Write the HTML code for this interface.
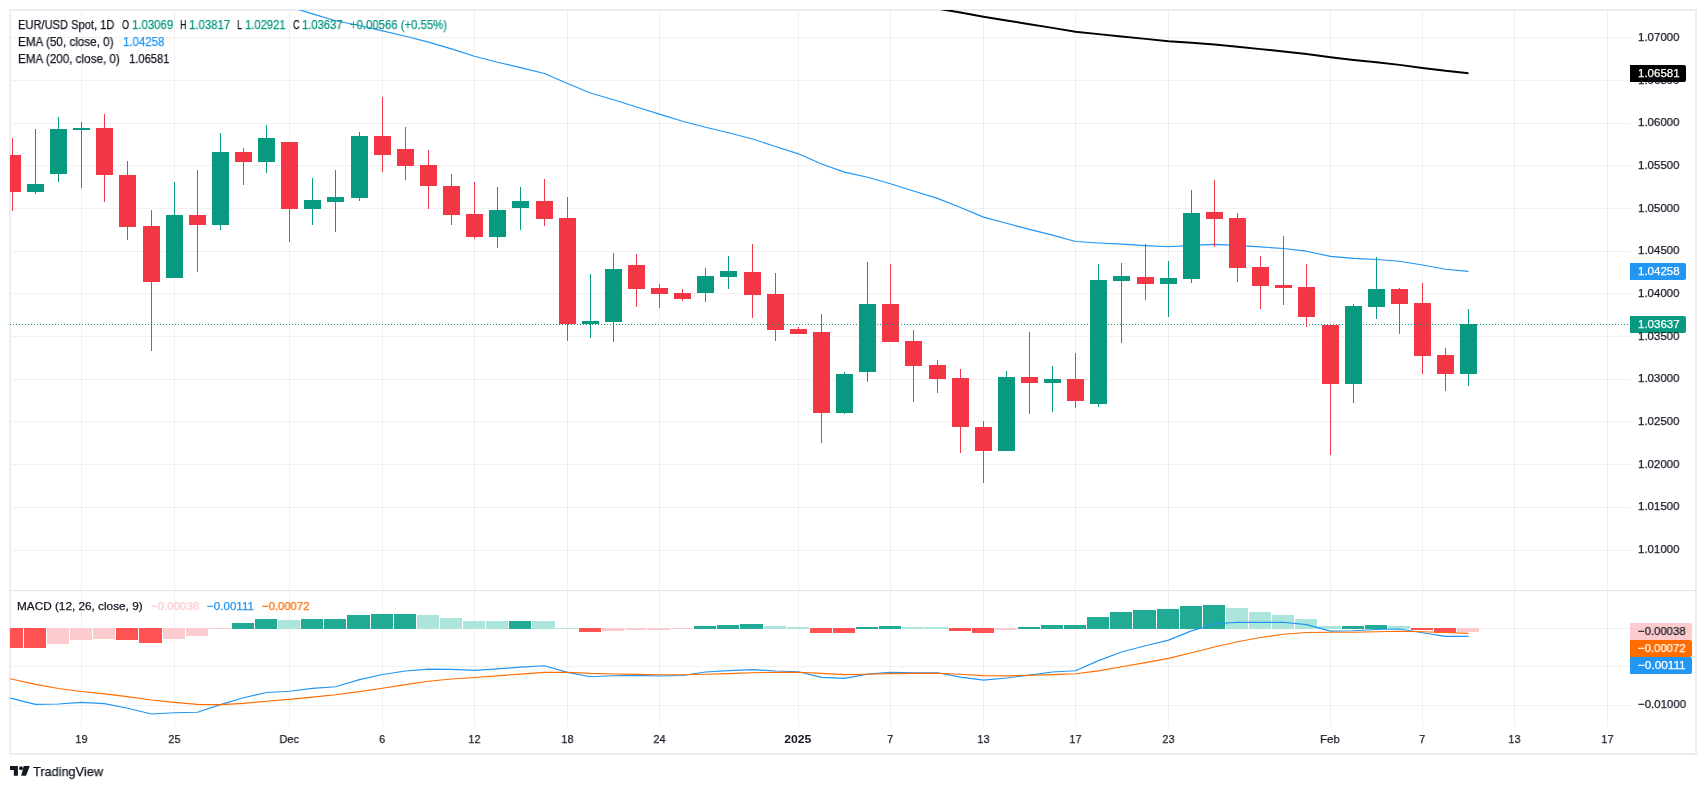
<!DOCTYPE html>
<html><head><meta charset="utf-8"><title>EUR/USD Spot</title>
<style>
html,body{margin:0;padding:0;background:#fff}
body{width:1706px;height:789px;position:relative;overflow:hidden;font-family:"Liberation Sans",sans-serif}
.t{position:absolute;white-space:nowrap;will-change:transform;-webkit-text-stroke:0.25px currentColor;line-height:normal;font-family:"Liberation Sans",sans-serif}
.tc{text-align:center;color:#131722}
.lb{position:absolute;border-radius:0 2px 2px 0}
.frame{position:absolute;left:9px;top:9px;width:1684px;height:742px;border:2px solid #ecedf3;box-sizing:content-box}
</style></head><body>
<div class="frame"></div>
<svg width="1706" height="789" viewBox="0 0 1706 789" style="position:absolute;left:0;top:0" shape-rendering="crispEdges"><defs><clipPath id="cm"><rect x="10" y="10" width="1620" height="580"/></clipPath><clipPath id="cp"><rect x="10" y="591" width="1620" height="135"/></clipPath></defs><rect x="11" y="37" width="1619" height="1" fill="rgba(40,48,50,0.065)"/><rect x="11" y="80" width="1619" height="1" fill="rgba(40,48,50,0.065)"/><rect x="11" y="123" width="1619" height="1" fill="rgba(40,48,50,0.065)"/><rect x="11" y="165" width="1619" height="1" fill="rgba(40,48,50,0.065)"/><rect x="11" y="208" width="1619" height="1" fill="rgba(40,48,50,0.065)"/><rect x="11" y="251" width="1619" height="1" fill="rgba(40,48,50,0.065)"/><rect x="11" y="293" width="1619" height="1" fill="rgba(40,48,50,0.065)"/><rect x="11" y="336" width="1619" height="1" fill="rgba(40,48,50,0.065)"/><rect x="11" y="379" width="1619" height="1" fill="rgba(40,48,50,0.065)"/><rect x="11" y="421" width="1619" height="1" fill="rgba(40,48,50,0.065)"/><rect x="11" y="464" width="1619" height="1" fill="rgba(40,48,50,0.065)"/><rect x="11" y="507" width="1619" height="1" fill="rgba(40,48,50,0.065)"/><rect x="11" y="550" width="1619" height="1" fill="rgba(40,48,50,0.065)"/><rect x="11" y="628" width="1619" height="1" fill="rgba(40,48,50,0.065)"/><rect x="11" y="666" width="1619" height="1" fill="rgba(40,48,50,0.065)"/><rect x="11" y="705" width="1619" height="1" fill="rgba(40,48,50,0.065)"/><rect x="81" y="11" width="1" height="715" fill="rgba(40,48,50,0.065)"/><rect x="174" y="11" width="1" height="715" fill="rgba(40,48,50,0.065)"/><rect x="289" y="11" width="1" height="715" fill="rgba(40,48,50,0.065)"/><rect x="382" y="11" width="1" height="715" fill="rgba(40,48,50,0.065)"/><rect x="474" y="11" width="1" height="715" fill="rgba(40,48,50,0.065)"/><rect x="567" y="11" width="1" height="715" fill="rgba(40,48,50,0.065)"/><rect x="659" y="11" width="1" height="715" fill="rgba(40,48,50,0.065)"/><rect x="798" y="11" width="1" height="715" fill="rgba(40,48,50,0.065)"/><rect x="890" y="11" width="1" height="715" fill="rgba(40,48,50,0.065)"/><rect x="983" y="11" width="1" height="715" fill="rgba(40,48,50,0.065)"/><rect x="1075" y="11" width="1" height="715" fill="rgba(40,48,50,0.065)"/><rect x="1168" y="11" width="1" height="715" fill="rgba(40,48,50,0.065)"/><rect x="1330" y="11" width="1" height="715" fill="rgba(40,48,50,0.065)"/><rect x="1422" y="11" width="1" height="715" fill="rgba(40,48,50,0.065)"/><rect x="1514" y="11" width="1" height="715" fill="rgba(40,48,50,0.065)"/><rect x="1607" y="11" width="1" height="715" fill="rgba(40,48,50,0.065)"/><rect x="11" y="590" width="1684" height="1" fill="#e0e3eb"/><g clip-path="url(#cm)"><polyline shape-rendering="geometricPrecision" points="-10.6,-118.06 12.5,-106.49 35.5,-94.93 58.5,-85.97 81.5,-77.41 104.5,-67.35 127.5,-55.64 151.5,-42.23 174.5,-31.97 197.5,-21.72 220.5,-14.73 243.5,-7.64 266.5,-1.76 289.5,6.67 312.5,13.92 335.5,20.75 359.5,25.56 382.5,30.92 405.5,36.22 428.5,42.11 451.5,48.89 474.5,56.27 497.5,62.25 520.5,67.64 544.5,73.52 567.5,83.50 590.5,92.97 613.5,99.72 636.5,106.97 659.5,114.12 682.5,121.27 705.5,127.24 728.5,132.78 752.5,139.01 775.5,146.49 798.5,153.84 821.5,163.95 844.5,172.13 867.5,177.29 890.5,183.73 913.5,190.95 937.5,198.41 960.5,207.46 983.5,217.10 1006.5,223.26 1029.5,229.41 1052.5,235.16 1075.5,241.54 1098.5,242.95 1121.5,244.14 1145.5,245.59 1168.5,246.73 1191.5,245.41 1214.5,244.38 1237.5,245.31 1260.5,246.90 1283.5,248.51 1306.5,251.19 1330.5,256.39 1353.5,258.34 1376.5,259.54 1399.5,261.28 1422.5,264.98 1445.5,269.25 1468.5,271.40" fill="none" stroke="#2196f3" stroke-width="1.15" stroke-linejoin="round" stroke-linecap="butt" /><polyline shape-rendering="geometricPrecision" points="-10.6,-205.20 12.5,-200.00 35.5,-194.80 58.5,-190.17 81.5,-185.58 104.5,-180.54 127.5,-175.02 151.5,-168.97 174.5,-163.64 197.5,-158.23 220.5,-153.58 243.5,-148.86 266.5,-144.40 289.5,-139.26 312.5,-134.23 335.5,-129.26 359.5,-124.92 382.5,-120.42 405.5,-115.83 428.5,-111.06 451.5,-106.03 474.5,-100.81 497.5,-95.89 520.5,-91.08 544.5,-86.12 567.5,-80.14 590.5,-74.22 613.5,-68.86 636.5,-63.34 659.5,-57.79 682.5,-52.23 705.5,-46.93 728.5,-41.71 752.5,-36.28 775.5,-30.54 798.5,-24.79 821.5,-18.28 844.5,-12.21 867.5,-6.87 890.5,-1.19 913.5,4.70 937.5,8.60 960.5,12.60 983.5,16.80 1006.5,20.50 1029.5,24.22 1052.5,27.87 1075.5,31.70 1098.5,34.12 1121.5,36.47 1145.5,38.88 1168.5,41.20 1191.5,42.87 1214.5,44.59 1237.5,46.78 1260.5,49.12 1283.5,51.46 1306.5,54.06 1330.5,57.30 1353.5,59.91 1376.5,62.33 1399.5,64.87 1422.5,67.90 1445.5,70.81 1468.5,73.20" fill="none" stroke="#000000" stroke-width="2" stroke-linejoin="round" stroke-linecap="butt" /><rect x="12" y="138" width="1" height="73" fill="#f23645"/><rect x="4" y="155" width="17" height="37" fill="#f23645"/><rect x="35" y="129" width="1" height="65" fill="#089981"/><rect x="27" y="184" width="17" height="8" fill="#089981"/><rect x="58" y="117" width="1" height="65" fill="#089981"/><rect x="50" y="129" width="17" height="45" fill="#089981"/><rect x="81" y="122" width="1" height="66" fill="#089981"/><rect x="73" y="128" width="17" height="2" fill="#089981"/><rect x="104" y="114" width="1" height="88" fill="#f23645"/><rect x="96" y="128" width="17" height="47" fill="#f23645"/><rect x="127" y="161" width="1" height="79" fill="#f23645"/><rect x="119" y="175" width="17" height="52" fill="#f23645"/><rect x="151" y="210" width="1" height="141" fill="#f23645"/><rect x="143" y="226" width="17" height="56" fill="#f23645"/><rect x="174" y="182" width="1" height="96" fill="#089981"/><rect x="166" y="215" width="17" height="63" fill="#089981"/><rect x="197" y="170" width="1" height="102" fill="#f23645"/><rect x="189" y="215" width="17" height="10" fill="#f23645"/><rect x="220" y="133" width="1" height="97" fill="#089981"/><rect x="212" y="152" width="17" height="73" fill="#089981"/><rect x="243" y="148" width="1" height="37" fill="#f23645"/><rect x="235" y="152" width="17" height="10" fill="#f23645"/><rect x="266" y="125" width="1" height="48" fill="#089981"/><rect x="258" y="138" width="17" height="24" fill="#089981"/><rect x="289" y="142" width="1" height="100" fill="#f23645"/><rect x="281" y="142" width="17" height="67" fill="#f23645"/><rect x="312" y="178" width="1" height="47" fill="#089981"/><rect x="304" y="200" width="17" height="9" fill="#089981"/><rect x="335" y="170" width="1" height="62" fill="#089981"/><rect x="327" y="197" width="17" height="5" fill="#089981"/><rect x="359" y="132" width="1" height="69" fill="#089981"/><rect x="351" y="136" width="17" height="62" fill="#089981"/><rect x="382" y="97" width="1" height="75" fill="#f23645"/><rect x="374" y="136" width="17" height="19" fill="#f23645"/><rect x="405" y="127" width="1" height="53" fill="#f23645"/><rect x="397" y="149" width="17" height="17" fill="#f23645"/><rect x="428" y="150" width="1" height="59" fill="#f23645"/><rect x="420" y="165" width="17" height="21" fill="#f23645"/><rect x="451" y="174" width="1" height="51" fill="#f23645"/><rect x="443" y="186" width="17" height="29" fill="#f23645"/><rect x="474" y="182" width="1" height="57" fill="#f23645"/><rect x="466" y="214" width="17" height="23" fill="#f23645"/><rect x="497" y="187" width="1" height="61" fill="#089981"/><rect x="489" y="210" width="17" height="27" fill="#089981"/><rect x="520" y="187" width="1" height="43" fill="#089981"/><rect x="512" y="201" width="17" height="7" fill="#089981"/><rect x="544" y="179" width="1" height="47" fill="#f23645"/><rect x="536" y="201" width="17" height="18" fill="#f23645"/><rect x="567" y="197" width="1" height="144" fill="#f23645"/><rect x="559" y="218" width="17" height="106" fill="#f23645"/><rect x="590" y="274" width="1" height="64" fill="#089981"/><rect x="582" y="321" width="17" height="3" fill="#089981"/><rect x="613" y="253" width="1" height="89" fill="#089981"/><rect x="605" y="269" width="17" height="53" fill="#089981"/><rect x="636" y="254" width="1" height="53" fill="#f23645"/><rect x="628" y="265" width="17" height="24" fill="#f23645"/><rect x="659" y="284" width="1" height="24" fill="#f23645"/><rect x="651" y="288" width="17" height="6" fill="#f23645"/><rect x="682" y="289" width="1" height="12" fill="#f23645"/><rect x="674" y="293" width="17" height="6" fill="#f23645"/><rect x="705" y="268" width="1" height="34" fill="#089981"/><rect x="697" y="276" width="17" height="17" fill="#089981"/><rect x="728" y="256" width="1" height="33" fill="#089981"/><rect x="720" y="271" width="17" height="6" fill="#089981"/><rect x="752" y="244" width="1" height="74" fill="#f23645"/><rect x="744" y="272" width="17" height="23" fill="#f23645"/><rect x="775" y="273" width="1" height="68" fill="#f23645"/><rect x="767" y="294" width="17" height="36" fill="#f23645"/><rect x="798" y="327" width="1" height="7" fill="#f23645"/><rect x="790" y="329" width="17" height="5" fill="#f23645"/><rect x="821" y="314" width="1" height="129" fill="#f23645"/><rect x="813" y="332" width="17" height="81" fill="#f23645"/><rect x="844" y="372" width="1" height="42" fill="#089981"/><rect x="836" y="374" width="17" height="39" fill="#089981"/><rect x="867" y="262" width="1" height="120" fill="#089981"/><rect x="859" y="304" width="17" height="68" fill="#089981"/><rect x="890" y="264" width="1" height="78" fill="#f23645"/><rect x="882" y="304" width="17" height="38" fill="#f23645"/><rect x="913" y="330" width="1" height="72" fill="#f23645"/><rect x="905" y="341" width="17" height="25" fill="#f23645"/><rect x="937" y="360" width="1" height="33" fill="#f23645"/><rect x="929" y="365" width="17" height="14" fill="#f23645"/><rect x="960" y="369" width="1" height="84" fill="#f23645"/><rect x="952" y="378" width="17" height="49" fill="#f23645"/><rect x="983" y="421" width="1" height="62" fill="#f23645"/><rect x="975" y="427" width="17" height="24" fill="#f23645"/><rect x="1006" y="371" width="1" height="80" fill="#089981"/><rect x="998" y="377" width="17" height="74" fill="#089981"/><rect x="1029" y="332" width="1" height="82" fill="#f23645"/><rect x="1021" y="377" width="17" height="6" fill="#f23645"/><rect x="1052" y="366" width="1" height="46" fill="#089981"/><rect x="1044" y="379" width="17" height="4" fill="#089981"/><rect x="1075" y="353" width="1" height="55" fill="#f23645"/><rect x="1067" y="379" width="17" height="22" fill="#f23645"/><rect x="1098" y="264" width="1" height="143" fill="#089981"/><rect x="1090" y="280" width="17" height="124" fill="#089981"/><rect x="1121" y="263" width="1" height="80" fill="#089981"/><rect x="1113" y="276" width="17" height="5" fill="#089981"/><rect x="1145" y="244" width="1" height="56" fill="#f23645"/><rect x="1137" y="277" width="17" height="7" fill="#f23645"/><rect x="1168" y="261" width="1" height="56" fill="#089981"/><rect x="1160" y="278" width="17" height="6" fill="#089981"/><rect x="1191" y="190" width="1" height="93" fill="#089981"/><rect x="1183" y="213" width="17" height="66" fill="#089981"/><rect x="1214" y="180" width="1" height="67" fill="#f23645"/><rect x="1206" y="212" width="17" height="7" fill="#f23645"/><rect x="1237" y="213" width="1" height="69" fill="#f23645"/><rect x="1229" y="218" width="17" height="50" fill="#f23645"/><rect x="1260" y="256" width="1" height="53" fill="#f23645"/><rect x="1252" y="267" width="17" height="19" fill="#f23645"/><rect x="1283" y="236" width="1" height="69" fill="#f23645"/><rect x="1275" y="285" width="17" height="3" fill="#f23645"/><rect x="1306" y="264" width="1" height="63" fill="#f23645"/><rect x="1298" y="287" width="17" height="30" fill="#f23645"/><rect x="1330" y="325" width="1" height="130" fill="#f23645"/><rect x="1322" y="325" width="17" height="59" fill="#f23645"/><rect x="1353" y="304" width="1" height="99" fill="#089981"/><rect x="1345" y="306" width="17" height="78" fill="#089981"/><rect x="1376" y="257" width="1" height="62" fill="#089981"/><rect x="1368" y="289" width="17" height="18" fill="#089981"/><rect x="1399" y="288" width="1" height="46" fill="#f23645"/><rect x="1391" y="289" width="17" height="15" fill="#f23645"/><rect x="1422" y="283" width="1" height="91" fill="#f23645"/><rect x="1414" y="303" width="17" height="53" fill="#f23645"/><rect x="1445" y="348" width="1" height="43" fill="#f23645"/><rect x="1437" y="355" width="17" height="19" fill="#f23645"/><rect x="1468" y="309" width="1" height="77" fill="#089981"/><rect x="1460" y="324" width="17" height="50" fill="#089981"/><rect x="10" y="324" width="1" height="1" fill="#089981"/><rect x="13" y="324" width="1" height="1" fill="#089981"/><rect x="16" y="324" width="1" height="1" fill="#089981"/><rect x="19" y="324" width="1" height="1" fill="#089981"/><rect x="22" y="324" width="1" height="1" fill="#089981"/><rect x="25" y="324" width="1" height="1" fill="#089981"/><rect x="28" y="324" width="1" height="1" fill="#089981"/><rect x="31" y="324" width="1" height="1" fill="#089981"/><rect x="34" y="324" width="1" height="1" fill="#089981"/><rect x="37" y="324" width="1" height="1" fill="#089981"/><rect x="40" y="324" width="1" height="1" fill="#089981"/><rect x="43" y="324" width="1" height="1" fill="#089981"/><rect x="46" y="324" width="1" height="1" fill="#089981"/><rect x="49" y="324" width="1" height="1" fill="#089981"/><rect x="52" y="324" width="1" height="1" fill="#089981"/><rect x="55" y="324" width="1" height="1" fill="#089981"/><rect x="58" y="324" width="1" height="1" fill="#089981"/><rect x="61" y="324" width="1" height="1" fill="#089981"/><rect x="64" y="324" width="1" height="1" fill="#089981"/><rect x="67" y="324" width="1" height="1" fill="#089981"/><rect x="70" y="324" width="1" height="1" fill="#089981"/><rect x="73" y="324" width="1" height="1" fill="#089981"/><rect x="76" y="324" width="1" height="1" fill="#089981"/><rect x="79" y="324" width="1" height="1" fill="#089981"/><rect x="82" y="324" width="1" height="1" fill="#089981"/><rect x="85" y="324" width="1" height="1" fill="#089981"/><rect x="88" y="324" width="1" height="1" fill="#089981"/><rect x="91" y="324" width="1" height="1" fill="#089981"/><rect x="94" y="324" width="1" height="1" fill="#089981"/><rect x="97" y="324" width="1" height="1" fill="#089981"/><rect x="100" y="324" width="1" height="1" fill="#089981"/><rect x="103" y="324" width="1" height="1" fill="#089981"/><rect x="106" y="324" width="1" height="1" fill="#089981"/><rect x="109" y="324" width="1" height="1" fill="#089981"/><rect x="112" y="324" width="1" height="1" fill="#089981"/><rect x="115" y="324" width="1" height="1" fill="#089981"/><rect x="118" y="324" width="1" height="1" fill="#089981"/><rect x="121" y="324" width="1" height="1" fill="#089981"/><rect x="124" y="324" width="1" height="1" fill="#089981"/><rect x="127" y="324" width="1" height="1" fill="#089981"/><rect x="130" y="324" width="1" height="1" fill="#089981"/><rect x="133" y="324" width="1" height="1" fill="#089981"/><rect x="136" y="324" width="1" height="1" fill="#089981"/><rect x="139" y="324" width="1" height="1" fill="#089981"/><rect x="142" y="324" width="1" height="1" fill="#089981"/><rect x="145" y="324" width="1" height="1" fill="#089981"/><rect x="148" y="324" width="1" height="1" fill="#089981"/><rect x="151" y="324" width="1" height="1" fill="#089981"/><rect x="154" y="324" width="1" height="1" fill="#089981"/><rect x="157" y="324" width="1" height="1" fill="#089981"/><rect x="160" y="324" width="1" height="1" fill="#089981"/><rect x="163" y="324" width="1" height="1" fill="#089981"/><rect x="166" y="324" width="1" height="1" fill="#089981"/><rect x="169" y="324" width="1" height="1" fill="#089981"/><rect x="172" y="324" width="1" height="1" fill="#089981"/><rect x="175" y="324" width="1" height="1" fill="#089981"/><rect x="178" y="324" width="1" height="1" fill="#089981"/><rect x="181" y="324" width="1" height="1" fill="#089981"/><rect x="184" y="324" width="1" height="1" fill="#089981"/><rect x="187" y="324" width="1" height="1" fill="#089981"/><rect x="190" y="324" width="1" height="1" fill="#089981"/><rect x="193" y="324" width="1" height="1" fill="#089981"/><rect x="196" y="324" width="1" height="1" fill="#089981"/><rect x="199" y="324" width="1" height="1" fill="#089981"/><rect x="202" y="324" width="1" height="1" fill="#089981"/><rect x="205" y="324" width="1" height="1" fill="#089981"/><rect x="208" y="324" width="1" height="1" fill="#089981"/><rect x="211" y="324" width="1" height="1" fill="#089981"/><rect x="214" y="324" width="1" height="1" fill="#089981"/><rect x="217" y="324" width="1" height="1" fill="#089981"/><rect x="220" y="324" width="1" height="1" fill="#089981"/><rect x="223" y="324" width="1" height="1" fill="#089981"/><rect x="226" y="324" width="1" height="1" fill="#089981"/><rect x="229" y="324" width="1" height="1" fill="#089981"/><rect x="232" y="324" width="1" height="1" fill="#089981"/><rect x="235" y="324" width="1" height="1" fill="#089981"/><rect x="238" y="324" width="1" height="1" fill="#089981"/><rect x="241" y="324" width="1" height="1" fill="#089981"/><rect x="244" y="324" width="1" height="1" fill="#089981"/><rect x="247" y="324" width="1" height="1" fill="#089981"/><rect x="250" y="324" width="1" height="1" fill="#089981"/><rect x="253" y="324" width="1" height="1" fill="#089981"/><rect x="256" y="324" width="1" height="1" fill="#089981"/><rect x="259" y="324" width="1" height="1" fill="#089981"/><rect x="262" y="324" width="1" height="1" fill="#089981"/><rect x="265" y="324" width="1" height="1" fill="#089981"/><rect x="268" y="324" width="1" height="1" fill="#089981"/><rect x="271" y="324" width="1" height="1" fill="#089981"/><rect x="274" y="324" width="1" height="1" fill="#089981"/><rect x="277" y="324" width="1" height="1" fill="#089981"/><rect x="280" y="324" width="1" height="1" fill="#089981"/><rect x="283" y="324" width="1" height="1" fill="#089981"/><rect x="286" y="324" width="1" height="1" fill="#089981"/><rect x="289" y="324" width="1" height="1" fill="#089981"/><rect x="292" y="324" width="1" height="1" fill="#089981"/><rect x="295" y="324" width="1" height="1" fill="#089981"/><rect x="298" y="324" width="1" height="1" fill="#089981"/><rect x="301" y="324" width="1" height="1" fill="#089981"/><rect x="304" y="324" width="1" height="1" fill="#089981"/><rect x="307" y="324" width="1" height="1" fill="#089981"/><rect x="310" y="324" width="1" height="1" fill="#089981"/><rect x="313" y="324" width="1" height="1" fill="#089981"/><rect x="316" y="324" width="1" height="1" fill="#089981"/><rect x="319" y="324" width="1" height="1" fill="#089981"/><rect x="322" y="324" width="1" height="1" fill="#089981"/><rect x="325" y="324" width="1" height="1" fill="#089981"/><rect x="328" y="324" width="1" height="1" fill="#089981"/><rect x="331" y="324" width="1" height="1" fill="#089981"/><rect x="334" y="324" width="1" height="1" fill="#089981"/><rect x="337" y="324" width="1" height="1" fill="#089981"/><rect x="340" y="324" width="1" height="1" fill="#089981"/><rect x="343" y="324" width="1" height="1" fill="#089981"/><rect x="346" y="324" width="1" height="1" fill="#089981"/><rect x="349" y="324" width="1" height="1" fill="#089981"/><rect x="352" y="324" width="1" height="1" fill="#089981"/><rect x="355" y="324" width="1" height="1" fill="#089981"/><rect x="358" y="324" width="1" height="1" fill="#089981"/><rect x="361" y="324" width="1" height="1" fill="#089981"/><rect x="364" y="324" width="1" height="1" fill="#089981"/><rect x="367" y="324" width="1" height="1" fill="#089981"/><rect x="370" y="324" width="1" height="1" fill="#089981"/><rect x="373" y="324" width="1" height="1" fill="#089981"/><rect x="376" y="324" width="1" height="1" fill="#089981"/><rect x="379" y="324" width="1" height="1" fill="#089981"/><rect x="382" y="324" width="1" height="1" fill="#089981"/><rect x="385" y="324" width="1" height="1" fill="#089981"/><rect x="388" y="324" width="1" height="1" fill="#089981"/><rect x="391" y="324" width="1" height="1" fill="#089981"/><rect x="394" y="324" width="1" height="1" fill="#089981"/><rect x="397" y="324" width="1" height="1" fill="#089981"/><rect x="400" y="324" width="1" height="1" fill="#089981"/><rect x="403" y="324" width="1" height="1" fill="#089981"/><rect x="406" y="324" width="1" height="1" fill="#089981"/><rect x="409" y="324" width="1" height="1" fill="#089981"/><rect x="412" y="324" width="1" height="1" fill="#089981"/><rect x="415" y="324" width="1" height="1" fill="#089981"/><rect x="418" y="324" width="1" height="1" fill="#089981"/><rect x="421" y="324" width="1" height="1" fill="#089981"/><rect x="424" y="324" width="1" height="1" fill="#089981"/><rect x="427" y="324" width="1" height="1" fill="#089981"/><rect x="430" y="324" width="1" height="1" fill="#089981"/><rect x="433" y="324" width="1" height="1" fill="#089981"/><rect x="436" y="324" width="1" height="1" fill="#089981"/><rect x="439" y="324" width="1" height="1" fill="#089981"/><rect x="442" y="324" width="1" height="1" fill="#089981"/><rect x="445" y="324" width="1" height="1" fill="#089981"/><rect x="448" y="324" width="1" height="1" fill="#089981"/><rect x="451" y="324" width="1" height="1" fill="#089981"/><rect x="454" y="324" width="1" height="1" fill="#089981"/><rect x="457" y="324" width="1" height="1" fill="#089981"/><rect x="460" y="324" width="1" height="1" fill="#089981"/><rect x="463" y="324" width="1" height="1" fill="#089981"/><rect x="466" y="324" width="1" height="1" fill="#089981"/><rect x="469" y="324" width="1" height="1" fill="#089981"/><rect x="472" y="324" width="1" height="1" fill="#089981"/><rect x="475" y="324" width="1" height="1" fill="#089981"/><rect x="478" y="324" width="1" height="1" fill="#089981"/><rect x="481" y="324" width="1" height="1" fill="#089981"/><rect x="484" y="324" width="1" height="1" fill="#089981"/><rect x="487" y="324" width="1" height="1" fill="#089981"/><rect x="490" y="324" width="1" height="1" fill="#089981"/><rect x="493" y="324" width="1" height="1" fill="#089981"/><rect x="496" y="324" width="1" height="1" fill="#089981"/><rect x="499" y="324" width="1" height="1" fill="#089981"/><rect x="502" y="324" width="1" height="1" fill="#089981"/><rect x="505" y="324" width="1" height="1" fill="#089981"/><rect x="508" y="324" width="1" height="1" fill="#089981"/><rect x="511" y="324" width="1" height="1" fill="#089981"/><rect x="514" y="324" width="1" height="1" fill="#089981"/><rect x="517" y="324" width="1" height="1" fill="#089981"/><rect x="520" y="324" width="1" height="1" fill="#089981"/><rect x="523" y="324" width="1" height="1" fill="#089981"/><rect x="526" y="324" width="1" height="1" fill="#089981"/><rect x="529" y="324" width="1" height="1" fill="#089981"/><rect x="532" y="324" width="1" height="1" fill="#089981"/><rect x="535" y="324" width="1" height="1" fill="#089981"/><rect x="538" y="324" width="1" height="1" fill="#089981"/><rect x="541" y="324" width="1" height="1" fill="#089981"/><rect x="544" y="324" width="1" height="1" fill="#089981"/><rect x="547" y="324" width="1" height="1" fill="#089981"/><rect x="550" y="324" width="1" height="1" fill="#089981"/><rect x="553" y="324" width="1" height="1" fill="#089981"/><rect x="556" y="324" width="1" height="1" fill="#089981"/><rect x="559" y="324" width="1" height="1" fill="#089981"/><rect x="562" y="324" width="1" height="1" fill="#089981"/><rect x="565" y="324" width="1" height="1" fill="#089981"/><rect x="568" y="324" width="1" height="1" fill="#089981"/><rect x="571" y="324" width="1" height="1" fill="#089981"/><rect x="574" y="324" width="1" height="1" fill="#089981"/><rect x="577" y="324" width="1" height="1" fill="#089981"/><rect x="580" y="324" width="1" height="1" fill="#089981"/><rect x="583" y="324" width="1" height="1" fill="#089981"/><rect x="586" y="324" width="1" height="1" fill="#089981"/><rect x="589" y="324" width="1" height="1" fill="#089981"/><rect x="592" y="324" width="1" height="1" fill="#089981"/><rect x="595" y="324" width="1" height="1" fill="#089981"/><rect x="598" y="324" width="1" height="1" fill="#089981"/><rect x="601" y="324" width="1" height="1" fill="#089981"/><rect x="604" y="324" width="1" height="1" fill="#089981"/><rect x="607" y="324" width="1" height="1" fill="#089981"/><rect x="610" y="324" width="1" height="1" fill="#089981"/><rect x="613" y="324" width="1" height="1" fill="#089981"/><rect x="616" y="324" width="1" height="1" fill="#089981"/><rect x="619" y="324" width="1" height="1" fill="#089981"/><rect x="622" y="324" width="1" height="1" fill="#089981"/><rect x="625" y="324" width="1" height="1" fill="#089981"/><rect x="628" y="324" width="1" height="1" fill="#089981"/><rect x="631" y="324" width="1" height="1" fill="#089981"/><rect x="634" y="324" width="1" height="1" fill="#089981"/><rect x="637" y="324" width="1" height="1" fill="#089981"/><rect x="640" y="324" width="1" height="1" fill="#089981"/><rect x="643" y="324" width="1" height="1" fill="#089981"/><rect x="646" y="324" width="1" height="1" fill="#089981"/><rect x="649" y="324" width="1" height="1" fill="#089981"/><rect x="652" y="324" width="1" height="1" fill="#089981"/><rect x="655" y="324" width="1" height="1" fill="#089981"/><rect x="658" y="324" width="1" height="1" fill="#089981"/><rect x="661" y="324" width="1" height="1" fill="#089981"/><rect x="664" y="324" width="1" height="1" fill="#089981"/><rect x="667" y="324" width="1" height="1" fill="#089981"/><rect x="670" y="324" width="1" height="1" fill="#089981"/><rect x="673" y="324" width="1" height="1" fill="#089981"/><rect x="676" y="324" width="1" height="1" fill="#089981"/><rect x="679" y="324" width="1" height="1" fill="#089981"/><rect x="682" y="324" width="1" height="1" fill="#089981"/><rect x="685" y="324" width="1" height="1" fill="#089981"/><rect x="688" y="324" width="1" height="1" fill="#089981"/><rect x="691" y="324" width="1" height="1" fill="#089981"/><rect x="694" y="324" width="1" height="1" fill="#089981"/><rect x="697" y="324" width="1" height="1" fill="#089981"/><rect x="700" y="324" width="1" height="1" fill="#089981"/><rect x="703" y="324" width="1" height="1" fill="#089981"/><rect x="706" y="324" width="1" height="1" fill="#089981"/><rect x="709" y="324" width="1" height="1" fill="#089981"/><rect x="712" y="324" width="1" height="1" fill="#089981"/><rect x="715" y="324" width="1" height="1" fill="#089981"/><rect x="718" y="324" width="1" height="1" fill="#089981"/><rect x="721" y="324" width="1" height="1" fill="#089981"/><rect x="724" y="324" width="1" height="1" fill="#089981"/><rect x="727" y="324" width="1" height="1" fill="#089981"/><rect x="730" y="324" width="1" height="1" fill="#089981"/><rect x="733" y="324" width="1" height="1" fill="#089981"/><rect x="736" y="324" width="1" height="1" fill="#089981"/><rect x="739" y="324" width="1" height="1" fill="#089981"/><rect x="742" y="324" width="1" height="1" fill="#089981"/><rect x="745" y="324" width="1" height="1" fill="#089981"/><rect x="748" y="324" width="1" height="1" fill="#089981"/><rect x="751" y="324" width="1" height="1" fill="#089981"/><rect x="754" y="324" width="1" height="1" fill="#089981"/><rect x="757" y="324" width="1" height="1" fill="#089981"/><rect x="760" y="324" width="1" height="1" fill="#089981"/><rect x="763" y="324" width="1" height="1" fill="#089981"/><rect x="766" y="324" width="1" height="1" fill="#089981"/><rect x="769" y="324" width="1" height="1" fill="#089981"/><rect x="772" y="324" width="1" height="1" fill="#089981"/><rect x="775" y="324" width="1" height="1" fill="#089981"/><rect x="778" y="324" width="1" height="1" fill="#089981"/><rect x="781" y="324" width="1" height="1" fill="#089981"/><rect x="784" y="324" width="1" height="1" fill="#089981"/><rect x="787" y="324" width="1" height="1" fill="#089981"/><rect x="790" y="324" width="1" height="1" fill="#089981"/><rect x="793" y="324" width="1" height="1" fill="#089981"/><rect x="796" y="324" width="1" height="1" fill="#089981"/><rect x="799" y="324" width="1" height="1" fill="#089981"/><rect x="802" y="324" width="1" height="1" fill="#089981"/><rect x="805" y="324" width="1" height="1" fill="#089981"/><rect x="808" y="324" width="1" height="1" fill="#089981"/><rect x="811" y="324" width="1" height="1" fill="#089981"/><rect x="814" y="324" width="1" height="1" fill="#089981"/><rect x="817" y="324" width="1" height="1" fill="#089981"/><rect x="820" y="324" width="1" height="1" fill="#089981"/><rect x="823" y="324" width="1" height="1" fill="#089981"/><rect x="826" y="324" width="1" height="1" fill="#089981"/><rect x="829" y="324" width="1" height="1" fill="#089981"/><rect x="832" y="324" width="1" height="1" fill="#089981"/><rect x="835" y="324" width="1" height="1" fill="#089981"/><rect x="838" y="324" width="1" height="1" fill="#089981"/><rect x="841" y="324" width="1" height="1" fill="#089981"/><rect x="844" y="324" width="1" height="1" fill="#089981"/><rect x="847" y="324" width="1" height="1" fill="#089981"/><rect x="850" y="324" width="1" height="1" fill="#089981"/><rect x="853" y="324" width="1" height="1" fill="#089981"/><rect x="856" y="324" width="1" height="1" fill="#089981"/><rect x="859" y="324" width="1" height="1" fill="#089981"/><rect x="862" y="324" width="1" height="1" fill="#089981"/><rect x="865" y="324" width="1" height="1" fill="#089981"/><rect x="868" y="324" width="1" height="1" fill="#089981"/><rect x="871" y="324" width="1" height="1" fill="#089981"/><rect x="874" y="324" width="1" height="1" fill="#089981"/><rect x="877" y="324" width="1" height="1" fill="#089981"/><rect x="880" y="324" width="1" height="1" fill="#089981"/><rect x="883" y="324" width="1" height="1" fill="#089981"/><rect x="886" y="324" width="1" height="1" fill="#089981"/><rect x="889" y="324" width="1" height="1" fill="#089981"/><rect x="892" y="324" width="1" height="1" fill="#089981"/><rect x="895" y="324" width="1" height="1" fill="#089981"/><rect x="898" y="324" width="1" height="1" fill="#089981"/><rect x="901" y="324" width="1" height="1" fill="#089981"/><rect x="904" y="324" width="1" height="1" fill="#089981"/><rect x="907" y="324" width="1" height="1" fill="#089981"/><rect x="910" y="324" width="1" height="1" fill="#089981"/><rect x="913" y="324" width="1" height="1" fill="#089981"/><rect x="916" y="324" width="1" height="1" fill="#089981"/><rect x="919" y="324" width="1" height="1" fill="#089981"/><rect x="922" y="324" width="1" height="1" fill="#089981"/><rect x="925" y="324" width="1" height="1" fill="#089981"/><rect x="928" y="324" width="1" height="1" fill="#089981"/><rect x="931" y="324" width="1" height="1" fill="#089981"/><rect x="934" y="324" width="1" height="1" fill="#089981"/><rect x="937" y="324" width="1" height="1" fill="#089981"/><rect x="940" y="324" width="1" height="1" fill="#089981"/><rect x="943" y="324" width="1" height="1" fill="#089981"/><rect x="946" y="324" width="1" height="1" fill="#089981"/><rect x="949" y="324" width="1" height="1" fill="#089981"/><rect x="952" y="324" width="1" height="1" fill="#089981"/><rect x="955" y="324" width="1" height="1" fill="#089981"/><rect x="958" y="324" width="1" height="1" fill="#089981"/><rect x="961" y="324" width="1" height="1" fill="#089981"/><rect x="964" y="324" width="1" height="1" fill="#089981"/><rect x="967" y="324" width="1" height="1" fill="#089981"/><rect x="970" y="324" width="1" height="1" fill="#089981"/><rect x="973" y="324" width="1" height="1" fill="#089981"/><rect x="976" y="324" width="1" height="1" fill="#089981"/><rect x="979" y="324" width="1" height="1" fill="#089981"/><rect x="982" y="324" width="1" height="1" fill="#089981"/><rect x="985" y="324" width="1" height="1" fill="#089981"/><rect x="988" y="324" width="1" height="1" fill="#089981"/><rect x="991" y="324" width="1" height="1" fill="#089981"/><rect x="994" y="324" width="1" height="1" fill="#089981"/><rect x="997" y="324" width="1" height="1" fill="#089981"/><rect x="1000" y="324" width="1" height="1" fill="#089981"/><rect x="1003" y="324" width="1" height="1" fill="#089981"/><rect x="1006" y="324" width="1" height="1" fill="#089981"/><rect x="1009" y="324" width="1" height="1" fill="#089981"/><rect x="1012" y="324" width="1" height="1" fill="#089981"/><rect x="1015" y="324" width="1" height="1" fill="#089981"/><rect x="1018" y="324" width="1" height="1" fill="#089981"/><rect x="1021" y="324" width="1" height="1" fill="#089981"/><rect x="1024" y="324" width="1" height="1" fill="#089981"/><rect x="1027" y="324" width="1" height="1" fill="#089981"/><rect x="1030" y="324" width="1" height="1" fill="#089981"/><rect x="1033" y="324" width="1" height="1" fill="#089981"/><rect x="1036" y="324" width="1" height="1" fill="#089981"/><rect x="1039" y="324" width="1" height="1" fill="#089981"/><rect x="1042" y="324" width="1" height="1" fill="#089981"/><rect x="1045" y="324" width="1" height="1" fill="#089981"/><rect x="1048" y="324" width="1" height="1" fill="#089981"/><rect x="1051" y="324" width="1" height="1" fill="#089981"/><rect x="1054" y="324" width="1" height="1" fill="#089981"/><rect x="1057" y="324" width="1" height="1" fill="#089981"/><rect x="1060" y="324" width="1" height="1" fill="#089981"/><rect x="1063" y="324" width="1" height="1" fill="#089981"/><rect x="1066" y="324" width="1" height="1" fill="#089981"/><rect x="1069" y="324" width="1" height="1" fill="#089981"/><rect x="1072" y="324" width="1" height="1" fill="#089981"/><rect x="1075" y="324" width="1" height="1" fill="#089981"/><rect x="1078" y="324" width="1" height="1" fill="#089981"/><rect x="1081" y="324" width="1" height="1" fill="#089981"/><rect x="1084" y="324" width="1" height="1" fill="#089981"/><rect x="1087" y="324" width="1" height="1" fill="#089981"/><rect x="1090" y="324" width="1" height="1" fill="#089981"/><rect x="1093" y="324" width="1" height="1" fill="#089981"/><rect x="1096" y="324" width="1" height="1" fill="#089981"/><rect x="1099" y="324" width="1" height="1" fill="#089981"/><rect x="1102" y="324" width="1" height="1" fill="#089981"/><rect x="1105" y="324" width="1" height="1" fill="#089981"/><rect x="1108" y="324" width="1" height="1" fill="#089981"/><rect x="1111" y="324" width="1" height="1" fill="#089981"/><rect x="1114" y="324" width="1" height="1" fill="#089981"/><rect x="1117" y="324" width="1" height="1" fill="#089981"/><rect x="1120" y="324" width="1" height="1" fill="#089981"/><rect x="1123" y="324" width="1" height="1" fill="#089981"/><rect x="1126" y="324" width="1" height="1" fill="#089981"/><rect x="1129" y="324" width="1" height="1" fill="#089981"/><rect x="1132" y="324" width="1" height="1" fill="#089981"/><rect x="1135" y="324" width="1" height="1" fill="#089981"/><rect x="1138" y="324" width="1" height="1" fill="#089981"/><rect x="1141" y="324" width="1" height="1" fill="#089981"/><rect x="1144" y="324" width="1" height="1" fill="#089981"/><rect x="1147" y="324" width="1" height="1" fill="#089981"/><rect x="1150" y="324" width="1" height="1" fill="#089981"/><rect x="1153" y="324" width="1" height="1" fill="#089981"/><rect x="1156" y="324" width="1" height="1" fill="#089981"/><rect x="1159" y="324" width="1" height="1" fill="#089981"/><rect x="1162" y="324" width="1" height="1" fill="#089981"/><rect x="1165" y="324" width="1" height="1" fill="#089981"/><rect x="1168" y="324" width="1" height="1" fill="#089981"/><rect x="1171" y="324" width="1" height="1" fill="#089981"/><rect x="1174" y="324" width="1" height="1" fill="#089981"/><rect x="1177" y="324" width="1" height="1" fill="#089981"/><rect x="1180" y="324" width="1" height="1" fill="#089981"/><rect x="1183" y="324" width="1" height="1" fill="#089981"/><rect x="1186" y="324" width="1" height="1" fill="#089981"/><rect x="1189" y="324" width="1" height="1" fill="#089981"/><rect x="1192" y="324" width="1" height="1" fill="#089981"/><rect x="1195" y="324" width="1" height="1" fill="#089981"/><rect x="1198" y="324" width="1" height="1" fill="#089981"/><rect x="1201" y="324" width="1" height="1" fill="#089981"/><rect x="1204" y="324" width="1" height="1" fill="#089981"/><rect x="1207" y="324" width="1" height="1" fill="#089981"/><rect x="1210" y="324" width="1" height="1" fill="#089981"/><rect x="1213" y="324" width="1" height="1" fill="#089981"/><rect x="1216" y="324" width="1" height="1" fill="#089981"/><rect x="1219" y="324" width="1" height="1" fill="#089981"/><rect x="1222" y="324" width="1" height="1" fill="#089981"/><rect x="1225" y="324" width="1" height="1" fill="#089981"/><rect x="1228" y="324" width="1" height="1" fill="#089981"/><rect x="1231" y="324" width="1" height="1" fill="#089981"/><rect x="1234" y="324" width="1" height="1" fill="#089981"/><rect x="1237" y="324" width="1" height="1" fill="#089981"/><rect x="1240" y="324" width="1" height="1" fill="#089981"/><rect x="1243" y="324" width="1" height="1" fill="#089981"/><rect x="1246" y="324" width="1" height="1" fill="#089981"/><rect x="1249" y="324" width="1" height="1" fill="#089981"/><rect x="1252" y="324" width="1" height="1" fill="#089981"/><rect x="1255" y="324" width="1" height="1" fill="#089981"/><rect x="1258" y="324" width="1" height="1" fill="#089981"/><rect x="1261" y="324" width="1" height="1" fill="#089981"/><rect x="1264" y="324" width="1" height="1" fill="#089981"/><rect x="1267" y="324" width="1" height="1" fill="#089981"/><rect x="1270" y="324" width="1" height="1" fill="#089981"/><rect x="1273" y="324" width="1" height="1" fill="#089981"/><rect x="1276" y="324" width="1" height="1" fill="#089981"/><rect x="1279" y="324" width="1" height="1" fill="#089981"/><rect x="1282" y="324" width="1" height="1" fill="#089981"/><rect x="1285" y="324" width="1" height="1" fill="#089981"/><rect x="1288" y="324" width="1" height="1" fill="#089981"/><rect x="1291" y="324" width="1" height="1" fill="#089981"/><rect x="1294" y="324" width="1" height="1" fill="#089981"/><rect x="1297" y="324" width="1" height="1" fill="#089981"/><rect x="1300" y="324" width="1" height="1" fill="#089981"/><rect x="1303" y="324" width="1" height="1" fill="#089981"/><rect x="1306" y="324" width="1" height="1" fill="#089981"/><rect x="1309" y="324" width="1" height="1" fill="#089981"/><rect x="1312" y="324" width="1" height="1" fill="#089981"/><rect x="1315" y="324" width="1" height="1" fill="#089981"/><rect x="1318" y="324" width="1" height="1" fill="#089981"/><rect x="1321" y="324" width="1" height="1" fill="#089981"/><rect x="1324" y="324" width="1" height="1" fill="#089981"/><rect x="1327" y="324" width="1" height="1" fill="#089981"/><rect x="1330" y="324" width="1" height="1" fill="#089981"/><rect x="1333" y="324" width="1" height="1" fill="#089981"/><rect x="1336" y="324" width="1" height="1" fill="#089981"/><rect x="1339" y="324" width="1" height="1" fill="#089981"/><rect x="1342" y="324" width="1" height="1" fill="#089981"/><rect x="1345" y="324" width="1" height="1" fill="#089981"/><rect x="1348" y="324" width="1" height="1" fill="#089981"/><rect x="1351" y="324" width="1" height="1" fill="#089981"/><rect x="1354" y="324" width="1" height="1" fill="#089981"/><rect x="1357" y="324" width="1" height="1" fill="#089981"/><rect x="1360" y="324" width="1" height="1" fill="#089981"/><rect x="1363" y="324" width="1" height="1" fill="#089981"/><rect x="1366" y="324" width="1" height="1" fill="#089981"/><rect x="1369" y="324" width="1" height="1" fill="#089981"/><rect x="1372" y="324" width="1" height="1" fill="#089981"/><rect x="1375" y="324" width="1" height="1" fill="#089981"/><rect x="1378" y="324" width="1" height="1" fill="#089981"/><rect x="1381" y="324" width="1" height="1" fill="#089981"/><rect x="1384" y="324" width="1" height="1" fill="#089981"/><rect x="1387" y="324" width="1" height="1" fill="#089981"/><rect x="1390" y="324" width="1" height="1" fill="#089981"/><rect x="1393" y="324" width="1" height="1" fill="#089981"/><rect x="1396" y="324" width="1" height="1" fill="#089981"/><rect x="1399" y="324" width="1" height="1" fill="#089981"/><rect x="1402" y="324" width="1" height="1" fill="#089981"/><rect x="1405" y="324" width="1" height="1" fill="#089981"/><rect x="1408" y="324" width="1" height="1" fill="#089981"/><rect x="1411" y="324" width="1" height="1" fill="#089981"/><rect x="1414" y="324" width="1" height="1" fill="#089981"/><rect x="1417" y="324" width="1" height="1" fill="#089981"/><rect x="1420" y="324" width="1" height="1" fill="#089981"/><rect x="1423" y="324" width="1" height="1" fill="#089981"/><rect x="1426" y="324" width="1" height="1" fill="#089981"/><rect x="1429" y="324" width="1" height="1" fill="#089981"/><rect x="1432" y="324" width="1" height="1" fill="#089981"/><rect x="1435" y="324" width="1" height="1" fill="#089981"/><rect x="1438" y="324" width="1" height="1" fill="#089981"/><rect x="1441" y="324" width="1" height="1" fill="#089981"/><rect x="1444" y="324" width="1" height="1" fill="#089981"/><rect x="1447" y="324" width="1" height="1" fill="#089981"/><rect x="1450" y="324" width="1" height="1" fill="#089981"/><rect x="1453" y="324" width="1" height="1" fill="#089981"/><rect x="1456" y="324" width="1" height="1" fill="#089981"/><rect x="1459" y="324" width="1" height="1" fill="#089981"/><rect x="1462" y="324" width="1" height="1" fill="#089981"/><rect x="1465" y="324" width="1" height="1" fill="#089981"/><rect x="1468" y="324" width="1" height="1" fill="#089981"/><rect x="1471" y="324" width="1" height="1" fill="#089981"/><rect x="1474" y="324" width="1" height="1" fill="#089981"/><rect x="1477" y="324" width="1" height="1" fill="#089981"/><rect x="1480" y="324" width="1" height="1" fill="#089981"/><rect x="1483" y="324" width="1" height="1" fill="#089981"/><rect x="1486" y="324" width="1" height="1" fill="#089981"/><rect x="1489" y="324" width="1" height="1" fill="#089981"/><rect x="1492" y="324" width="1" height="1" fill="#089981"/><rect x="1495" y="324" width="1" height="1" fill="#089981"/><rect x="1498" y="324" width="1" height="1" fill="#089981"/><rect x="1501" y="324" width="1" height="1" fill="#089981"/><rect x="1504" y="324" width="1" height="1" fill="#089981"/><rect x="1507" y="324" width="1" height="1" fill="#089981"/><rect x="1510" y="324" width="1" height="1" fill="#089981"/><rect x="1513" y="324" width="1" height="1" fill="#089981"/><rect x="1516" y="324" width="1" height="1" fill="#089981"/><rect x="1519" y="324" width="1" height="1" fill="#089981"/><rect x="1522" y="324" width="1" height="1" fill="#089981"/><rect x="1525" y="324" width="1" height="1" fill="#089981"/><rect x="1528" y="324" width="1" height="1" fill="#089981"/><rect x="1531" y="324" width="1" height="1" fill="#089981"/><rect x="1534" y="324" width="1" height="1" fill="#089981"/><rect x="1537" y="324" width="1" height="1" fill="#089981"/><rect x="1540" y="324" width="1" height="1" fill="#089981"/><rect x="1543" y="324" width="1" height="1" fill="#089981"/><rect x="1546" y="324" width="1" height="1" fill="#089981"/><rect x="1549" y="324" width="1" height="1" fill="#089981"/><rect x="1552" y="324" width="1" height="1" fill="#089981"/><rect x="1555" y="324" width="1" height="1" fill="#089981"/><rect x="1558" y="324" width="1" height="1" fill="#089981"/><rect x="1561" y="324" width="1" height="1" fill="#089981"/><rect x="1564" y="324" width="1" height="1" fill="#089981"/><rect x="1567" y="324" width="1" height="1" fill="#089981"/><rect x="1570" y="324" width="1" height="1" fill="#089981"/><rect x="1573" y="324" width="1" height="1" fill="#089981"/><rect x="1576" y="324" width="1" height="1" fill="#089981"/><rect x="1579" y="324" width="1" height="1" fill="#089981"/><rect x="1582" y="324" width="1" height="1" fill="#089981"/><rect x="1585" y="324" width="1" height="1" fill="#089981"/><rect x="1588" y="324" width="1" height="1" fill="#089981"/><rect x="1591" y="324" width="1" height="1" fill="#089981"/><rect x="1594" y="324" width="1" height="1" fill="#089981"/><rect x="1597" y="324" width="1" height="1" fill="#089981"/><rect x="1600" y="324" width="1" height="1" fill="#089981"/><rect x="1603" y="324" width="1" height="1" fill="#089981"/><rect x="1606" y="324" width="1" height="1" fill="#089981"/><rect x="1609" y="324" width="1" height="1" fill="#089981"/><rect x="1612" y="324" width="1" height="1" fill="#089981"/><rect x="1615" y="324" width="1" height="1" fill="#089981"/><rect x="1618" y="324" width="1" height="1" fill="#089981"/><rect x="1621" y="324" width="1" height="1" fill="#089981"/><rect x="1624" y="324" width="1" height="1" fill="#089981"/><rect x="1627" y="324" width="1" height="1" fill="#089981"/></g><g clip-path="url(#cp)"><rect x="1" y="628" width="22" height="20" fill="#ff5252"/><rect x="24" y="628" width="22" height="20" fill="#ff5252"/><rect x="47" y="628" width="22" height="16" fill="#fccbcd"/><rect x="70" y="628" width="22" height="12" fill="#fccbcd"/><rect x="93" y="628" width="22" height="11" fill="#fccbcd"/><rect x="116" y="628" width="22" height="12" fill="#ff5252"/><rect x="139" y="628" width="23" height="15" fill="#ff5252"/><rect x="163" y="628" width="22" height="11" fill="#fccbcd"/><rect x="186" y="628" width="22" height="8" fill="#fccbcd"/><rect x="209" y="628" width="22" height="1" fill="#fccbcd"/><rect x="232" y="623" width="22" height="6" fill="#22ab94"/><rect x="255" y="619" width="22" height="10" fill="#22ab94"/><rect x="278" y="620" width="22" height="9" fill="#ace5dc"/><rect x="301" y="619" width="22" height="10" fill="#22ab94"/><rect x="324" y="619" width="22" height="10" fill="#22ab94"/><rect x="347" y="615" width="23" height="14" fill="#22ab94"/><rect x="371" y="614" width="22" height="15" fill="#22ab94"/><rect x="394" y="614" width="22" height="15" fill="#22ab94"/><rect x="417" y="615" width="22" height="14" fill="#ace5dc"/><rect x="440" y="618" width="22" height="11" fill="#ace5dc"/><rect x="463" y="621" width="22" height="8" fill="#ace5dc"/><rect x="486" y="621" width="22" height="8" fill="#ace5dc"/><rect x="509" y="621" width="22" height="8" fill="#22ab94"/><rect x="532" y="621" width="23" height="8" fill="#ace5dc"/><rect x="556" y="628" width="22" height="1" fill="#ace5dc"/><rect x="579" y="628" width="22" height="4" fill="#ff5252"/><rect x="602" y="628" width="22" height="3" fill="#fccbcd"/><rect x="625" y="628" width="22" height="2" fill="#fccbcd"/><rect x="648" y="628" width="22" height="2" fill="#fccbcd"/><rect x="671" y="628" width="22" height="1" fill="#fccbcd"/><rect x="694" y="626" width="22" height="3" fill="#22ab94"/><rect x="717" y="625" width="22" height="4" fill="#22ab94"/><rect x="740" y="624" width="23" height="5" fill="#22ab94"/><rect x="764" y="626" width="22" height="3" fill="#ace5dc"/><rect x="787" y="627" width="22" height="2" fill="#ace5dc"/><rect x="810" y="628" width="22" height="5" fill="#ff5252"/><rect x="833" y="628" width="22" height="5" fill="#ff5252"/><rect x="856" y="627" width="22" height="2" fill="#22ab94"/><rect x="879" y="626" width="22" height="3" fill="#22ab94"/><rect x="902" y="627" width="22" height="2" fill="#ace5dc"/><rect x="925" y="627" width="23" height="2" fill="#ace5dc"/><rect x="949" y="628" width="22" height="3" fill="#ff5252"/><rect x="972" y="628" width="22" height="5" fill="#ff5252"/><rect x="995" y="628" width="22" height="2" fill="#fccbcd"/><rect x="1018" y="627" width="22" height="2" fill="#22ab94"/><rect x="1041" y="625" width="22" height="4" fill="#22ab94"/><rect x="1064" y="625" width="22" height="4" fill="#22ab94"/><rect x="1087" y="617" width="22" height="12" fill="#22ab94"/><rect x="1110" y="612" width="22" height="17" fill="#22ab94"/><rect x="1133" y="610" width="23" height="19" fill="#22ab94"/><rect x="1157" y="609" width="22" height="20" fill="#22ab94"/><rect x="1180" y="606" width="22" height="23" fill="#22ab94"/><rect x="1203" y="605" width="22" height="24" fill="#22ab94"/><rect x="1226" y="608" width="22" height="21" fill="#ace5dc"/><rect x="1249" y="612" width="22" height="17" fill="#ace5dc"/><rect x="1272" y="615" width="22" height="14" fill="#ace5dc"/><rect x="1295" y="619" width="22" height="10" fill="#ace5dc"/><rect x="1318" y="626" width="23" height="3" fill="#ace5dc"/><rect x="1342" y="626" width="22" height="3" fill="#22ab94"/><rect x="1365" y="625" width="22" height="4" fill="#22ab94"/><rect x="1388" y="626" width="22" height="3" fill="#ace5dc"/><rect x="1411" y="628" width="22" height="2" fill="#ff5252"/><rect x="1434" y="628" width="22" height="5" fill="#ff5252"/><rect x="1457" y="628" width="22" height="4" fill="#fccbcd"/><polyline shape-rendering="geometricPrecision" points="-10.6,692.80 12.5,698.60 35.5,704.40 58.5,703.96 81.5,702.40 104.5,703.60 127.5,708.20 151.5,714.00 174.5,712.71 197.5,712.20 220.5,704.60 243.5,697.72 266.5,692.50 289.5,691.20 312.5,688.40 335.5,686.70 359.5,679.60 382.5,674.50 405.5,671.00 428.5,669.10 451.5,669.31 474.5,670.40 497.5,668.88 520.5,667.12 544.5,665.80 567.5,672.40 590.5,676.70 613.5,675.70 636.5,675.35 659.5,676.00 682.5,675.50 705.5,672.03 728.5,670.60 752.5,669.60 775.5,671.03 798.5,671.70 821.5,677.40 844.5,678.40 867.5,674.10 890.5,672.30 913.5,672.92 937.5,672.80 960.5,677.10 983.5,680.10 1006.5,677.98 1029.5,675.10 1052.5,672.00 1075.5,670.80 1098.5,660.60 1121.5,652.00 1145.5,645.70 1168.5,640.10 1191.5,630.90 1214.5,623.90 1237.5,622.30 1260.5,622.30 1283.5,622.30 1306.5,624.60 1330.5,631.10 1353.5,630.80 1376.5,629.50 1399.5,629.00 1422.5,632.70 1445.5,636.40 1468.5,636.40" fill="none" stroke="#2196f3" stroke-width="1.15" stroke-linejoin="round" stroke-linecap="butt" /><polyline shape-rendering="geometricPrecision" points="-10.6,674.22 12.5,679.30 35.5,684.38 58.5,688.45 81.5,691.50 104.5,693.91 127.5,696.58 151.5,699.99 174.5,702.40 197.5,704.40 220.5,704.60 243.5,703.42 266.5,701.30 289.5,699.32 312.5,697.06 335.5,694.80 359.5,691.62 382.5,688.20 405.5,684.60 428.5,681.30 451.5,679.01 474.5,677.50 497.5,675.82 520.5,674.08 544.5,672.40 567.5,672.20 590.5,673.40 613.5,674.00 636.5,674.35 659.5,674.70 682.5,674.70 705.5,674.28 728.5,673.62 752.5,672.70 775.5,672.33 798.5,672.20 821.5,673.38 844.5,674.60 867.5,674.23 890.5,673.60 913.5,673.42 937.5,673.30 960.5,674.20 983.5,675.60 1006.5,675.83 1029.5,675.30 1052.5,674.56 1075.5,673.80 1098.5,670.88 1121.5,666.70 1145.5,662.67 1168.5,658.40 1191.5,652.80 1214.5,646.95 1237.5,641.80 1260.5,637.50 1283.5,634.30 1306.5,632.50 1330.5,632.20 1353.5,632.20 1376.5,631.70 1399.5,631.30 1422.5,631.80 1445.5,632.50 1468.5,633.40" fill="none" stroke="#ff6d00" stroke-width="1.15" stroke-linejoin="round" stroke-linecap="butt" /></g></svg>
<div class="lb" style="left:1630px;top:65px;width:56px;height:17px;background:#000000"></div><div class="lb" style="left:1630px;top:263px;width:56px;height:17px;background:#2196f3"></div><div class="lb" style="left:1630px;top:316px;width:56px;height:17px;background:#089981"></div><div class="lb" style="left:1630px;top:623px;width:62px;height:17px;background:#fccbcd"></div><div class="lb" style="left:1630px;top:640px;width:62px;height:17px;background:#ff6d00"></div><div class="lb" style="left:1630px;top:657px;width:62px;height:17px;background:#2196f3"></div><div class="t" style="left:17.70px;top:18.24px;font-size:12px;color:#131722;font-weight:400;transform:scaleX(0.9265);transform-origin:left center">EUR/USD Spot, 1D</div><div class="t" style="left:122.40px;top:18.24px;font-size:12px;color:#131722;font-weight:400;transform:scaleX(0.7492);transform-origin:left center">O</div><div class="t" style="left:132.00px;top:18.24px;font-size:12px;color:#089981;font-weight:400;transform:scaleX(0.9495);transform-origin:left center">1.03069</div><div class="t" style="left:180.10px;top:18.24px;font-size:12px;color:#131722;font-weight:400;transform:scaleX(0.7611);transform-origin:left center">H</div><div class="t" style="left:188.60px;top:18.24px;font-size:12px;color:#089981;font-weight:400;transform:scaleX(0.9495);transform-origin:left center">1.03817</div><div class="t" style="left:237.40px;top:18.24px;font-size:12px;color:#131722;font-weight:400;transform:scaleX(0.7477);transform-origin:left center">L</div><div class="t" style="left:244.90px;top:18.24px;font-size:12px;color:#089981;font-weight:400;transform:scaleX(0.9357);transform-origin:left center">1.02921</div><div class="t" style="left:292.50px;top:18.24px;font-size:12px;color:#131722;font-weight:400;transform:scaleX(0.7726);transform-origin:left center">C</div><div class="t" style="left:301.60px;top:18.24px;font-size:12px;color:#089981;font-weight:400;transform:scaleX(0.9357);transform-origin:left center">1.03637</div><div class="t" style="left:350.10px;top:18.24px;font-size:12px;color:#089981;font-weight:400;transform:scaleX(0.9440);transform-origin:left center">+0.00566 (+0.55%)</div><div class="t" style="left:17.70px;top:35.14px;font-size:12px;color:#131722;font-weight:400;transform:scaleX(0.9750);transform-origin:left center">EMA (50, close, 0)</div><div class="t" style="left:122.70px;top:35.14px;font-size:12px;color:#2196f3;font-weight:400;transform:scaleX(0.9518);transform-origin:left center">1.04258</div><div class="t" style="left:17.70px;top:52.24px;font-size:12px;color:#131722;font-weight:400;transform:scaleX(0.9721);transform-origin:left center">EMA (200, close, 0)</div><div class="t" style="left:129.30px;top:52.24px;font-size:12px;color:#131722;font-weight:400;transform:scaleX(0.9311);transform-origin:left center">1.06581</div><div class="t" style="left:16.90px;top:599.89px;font-size:11.5px;color:#131722;font-weight:400;transform:scaleX(1.0235);transform-origin:left center">MACD (12, 26, close, 9)</div><div class="t" style="left:150.90px;top:599.89px;font-size:11.5px;color:#fccbcd;font-weight:400;transform:scaleX(0.9939);transform-origin:left center">−0.00038</div><div class="t" style="left:206.70px;top:599.89px;font-size:11.5px;color:#2196f3;font-weight:400;transform:scaleX(1.0087);transform-origin:left center">−0.00111</div><div class="t" style="left:262.30px;top:599.89px;font-size:11.5px;color:#ff6d00;font-weight:400;transform:scaleX(0.9814);transform-origin:left center">−0.00072</div><div class="t" style="left:1638.30px;top:30.99px;font-size:11.5px;color:#131722;font-weight:400;transform:scaleX(0.9933);transform-origin:left center">1.07000</div><div class="t" style="left:1638.30px;top:73.67px;font-size:11.5px;color:#131722;font-weight:400;transform:scaleX(0.9933);transform-origin:left center">1.06500</div><div class="t" style="left:1638.30px;top:116.35px;font-size:11.5px;color:#131722;font-weight:400;transform:scaleX(0.9933);transform-origin:left center">1.06000</div><div class="t" style="left:1638.30px;top:159.03px;font-size:11.5px;color:#131722;font-weight:400;transform:scaleX(0.9933);transform-origin:left center">1.05500</div><div class="t" style="left:1638.30px;top:201.71px;font-size:11.5px;color:#131722;font-weight:400;transform:scaleX(0.9933);transform-origin:left center">1.05000</div><div class="t" style="left:1638.30px;top:244.39px;font-size:11.5px;color:#131722;font-weight:400;transform:scaleX(0.9933);transform-origin:left center">1.04500</div><div class="t" style="left:1638.30px;top:287.07px;font-size:11.5px;color:#131722;font-weight:400;transform:scaleX(0.9933);transform-origin:left center">1.04000</div><div class="t" style="left:1638.30px;top:329.75px;font-size:11.5px;color:#131722;font-weight:400;transform:scaleX(0.9933);transform-origin:left center">1.03500</div><div class="t" style="left:1638.30px;top:372.43px;font-size:11.5px;color:#131722;font-weight:400;transform:scaleX(0.9933);transform-origin:left center">1.03000</div><div class="t" style="left:1638.30px;top:415.11px;font-size:11.5px;color:#131722;font-weight:400;transform:scaleX(0.9933);transform-origin:left center">1.02500</div><div class="t" style="left:1638.30px;top:457.79px;font-size:11.5px;color:#131722;font-weight:400;transform:scaleX(0.9933);transform-origin:left center">1.02000</div><div class="t" style="left:1638.30px;top:500.47px;font-size:11.5px;color:#131722;font-weight:400;transform:scaleX(0.9933);transform-origin:left center">1.01500</div><div class="t" style="left:1638.30px;top:543.15px;font-size:11.5px;color:#131722;font-weight:400;transform:scaleX(0.9933);transform-origin:left center">1.01000</div><div class="t" style="left:1638.30px;top:698.29px;font-size:11.5px;color:#131722;font-weight:400;transform:scaleX(0.9939);transform-origin:left center">−0.01000</div><div class="t" style="left:75.10px;top:733.49px;font-size:11.5px;color:#131722;font-weight:400;transform:scaleX(0.9377);transform-origin:center center">19</div><div class="t" style="left:168.10px;top:733.49px;font-size:11.5px;color:#131722;font-weight:400;transform:scaleX(0.9377);transform-origin:center center">25</div><div class="t" style="left:279.27px;top:733.49px;font-size:11.5px;color:#131722;font-weight:400;transform:scaleX(0.9485);transform-origin:center center">Dec</div><div class="t" style="left:379.30px;top:733.49px;font-size:11.5px;color:#131722;font-weight:400;transform:scaleX(0.9054);transform-origin:center center">6</div><div class="t" style="left:468.10px;top:733.49px;font-size:11.5px;color:#131722;font-weight:400;transform:scaleX(0.9377);transform-origin:center center">12</div><div class="t" style="left:561.10px;top:733.49px;font-size:11.5px;color:#131722;font-weight:400;transform:scaleX(0.9377);transform-origin:center center">18</div><div class="t" style="left:653.10px;top:733.49px;font-size:11.5px;color:#131722;font-weight:400;transform:scaleX(0.9377);transform-origin:center center">24</div><div class="t" style="left:784.90px;top:733.49px;font-size:11.5px;color:#131722;font-weight:700;transform:scaleX(1.0589);transform-origin:center center;-webkit-text-stroke:0">2025</div><div class="t" style="left:887.30px;top:733.49px;font-size:11.5px;color:#131722;font-weight:400;transform:scaleX(0.9054);transform-origin:center center">7</div><div class="t" style="left:977.10px;top:733.49px;font-size:11.5px;color:#131722;font-weight:400;transform:scaleX(0.9377);transform-origin:center center">13</div><div class="t" style="left:1069.10px;top:733.49px;font-size:11.5px;color:#131722;font-weight:400;transform:scaleX(0.9377);transform-origin:center center">17</div><div class="t" style="left:1162.10px;top:733.49px;font-size:11.5px;color:#131722;font-weight:400;transform:scaleX(0.9377);transform-origin:center center">23</div><div class="t" style="left:1319.59px;top:733.49px;font-size:11.5px;color:#131722;font-weight:400;transform:scaleX(0.9784);transform-origin:center center">Feb</div><div class="t" style="left:1419.30px;top:733.49px;font-size:11.5px;color:#131722;font-weight:400;transform:scaleX(0.9054);transform-origin:center center">7</div><div class="t" style="left:1508.10px;top:733.49px;font-size:11.5px;color:#131722;font-weight:400;transform:scaleX(0.9377);transform-origin:center center">13</div><div class="t" style="left:1601.10px;top:733.49px;font-size:11.5px;color:#131722;font-weight:400;transform:scaleX(0.9377);transform-origin:center center">17</div><div class="t" style="left:1638.30px;top:67.09px;font-size:11.5px;color:#fff;font-weight:400;transform:scaleX(1.0029);transform-origin:left center">1.06581</div><div class="t" style="left:1638.30px;top:265.09px;font-size:11.5px;color:#fff;font-weight:400;transform:scaleX(1.0029);transform-origin:left center">1.04258</div><div class="t" style="left:1638.30px;top:318.09px;font-size:11.5px;color:#fff;font-weight:400;transform:scaleX(1.0029);transform-origin:left center">1.03637</div><div class="t" style="left:1638.00px;top:625.09px;font-size:11.5px;color:#131722;font-weight:400;transform:scaleX(0.9856);transform-origin:left center">−0.00038</div><div class="t" style="left:1638.00px;top:642.09px;font-size:11.5px;color:#fff;font-weight:400;transform:scaleX(0.9856);transform-origin:left center">−0.00072</div><div class="t" style="left:1638.00px;top:659.09px;font-size:11.5px;color:#fff;font-weight:400;transform:scaleX(1.0216);transform-origin:left center">−0.00111</div><div class="t" style="left:32.95px;top:763.94px;font-size:13px;color:#131722;font-weight:400;transform:scaleX(0.9784);transform-origin:left center">TradingView</div>
<svg style="position:absolute;left:10px;top:766px" width="20" height="10" viewBox="0 0 20 10"><path d="M0 0H7.9V9.7H3.8V3.9H0Z" fill="#131722"/><circle cx="11" cy="2.2" r="1.9" fill="#131722"/><path d="M13.7 0H19.8L16 9.7H11.2Z" fill="#131722"/></svg>
</body></html>
